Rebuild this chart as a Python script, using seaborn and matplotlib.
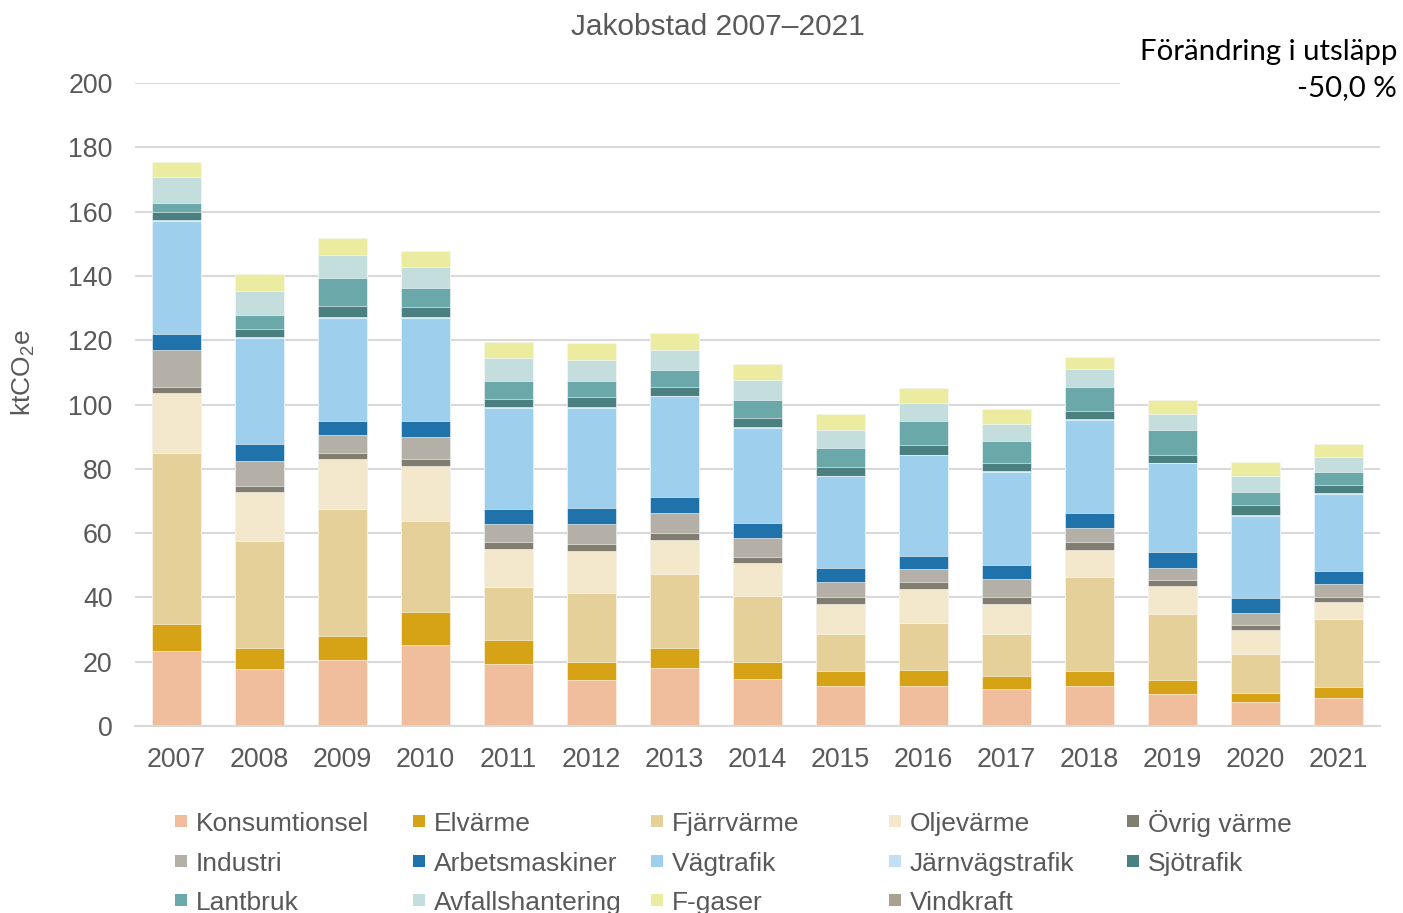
import numpy as np
import pandas as pd
import matplotlib
matplotlib.use("Agg")
import matplotlib.pyplot as plt
import matplotlib.patches as mpatches
import seaborn as sns

years = [str(y) for y in range(2007, 2022)]

categories = ["Konsumtionsel", "Elvärme", "Fjärrvärme", "Oljevärme", "Övrig värme",
              "Industri", "Arbetsmaskiner", "Vägtrafik", "Järnvägstrafik", "Sjötrafik",
              "Lantbruk", "Avfallshantering", "F-gaser", "Vindkraft"]

colors = ["#F0BE9C", "#D6A317", "#E6D09A", "#F3E8CC", "#817D70",
          "#B5B0A7", "#1F73AA", "#9ECFED", "#C0E0F4", "#4A8080",
          "#6AA8A9", "#C4DEDE", "#EBEC9F", "#A8A090"]

konsumtionsel = [23.2, 17.7, 20.4, 25.2, 19.4, 14.2, 18.2, 14.6, 12.6, 12.5, 11.4, 12.5, 9.9, 7.4, 8.7]
elvarme = [8.6, 6.5, 7.7, 10.2, 7.5, 5.6, 6.2, 5.2, 4.5, 5.0, 4.1, 4.6, 4.3, 3.0, 3.3]
fjarrvarme = [53.1, 33.5, 39.3, 28.3, 16.3, 21.5, 22.8, 20.6, 11.5, 14.6, 13.1, 29.1, 20.5, 12.0, 21.2]
oljevarme = [18.7, 15.2, 15.6, 17.1, 12.0, 13.1, 10.8, 10.3, 9.4, 10.4, 9.3, 8.7, 8.8, 7.4, 5.5]
ovrig_varme = [1.8, 1.9, 1.9, 2.4, 2.1, 2.2, 1.9, 2.0, 2.0, 2.2, 2.3, 2.3, 2.0, 1.7, 1.4]
industri = [11.7, 7.5, 5.5, 6.6, 5.5, 6.2, 6.4, 5.8, 4.8, 4.0, 5.6, 4.5, 3.8, 3.8, 4.0]
arbetsmaskiner = [4.9, 5.3, 4.6, 5.0, 4.6, 4.9, 4.8, 4.7, 4.3, 4.3, 4.3, 4.7, 4.7, 4.6, 4.1]
vagtrafik = [35.0, 33.2, 32.0, 32.2, 31.5, 31.3, 31.5, 29.5, 28.6, 31.2, 29.0, 28.9, 27.7, 25.5, 24.0]
jarnvagstrafik = [0.3, 0.3, 0.3, 0.3, 0.2, 0.2, 0.2, 0.2, 0.2, 0.2, 0.2, 0.2, 0.2, 0.2, 0.2]
sjotrafik = [2.5, 2.5, 3.2, 2.9, 2.5, 3.0, 2.6, 3.0, 2.7, 3.0, 2.6, 2.6, 2.5, 3.0, 2.6]
lantbruk = [3.0, 4.3, 8.8, 5.9, 5.7, 5.2, 5.2, 5.6, 5.8, 7.5, 6.8, 7.2, 7.6, 4.1, 3.9]
avfallshantering = [7.9, 7.3, 7.2, 6.8, 7.2, 6.5, 6.2, 6.0, 5.8, 5.5, 5.2, 5.6, 5.2, 5.2, 4.9]
f_gaser = [4.8, 5.3, 5.2, 4.9, 4.8, 5.2, 5.5, 5.1, 4.9, 4.6, 4.7, 3.9, 4.1, 4.2, 4.0]
vindkraft = [0.0] * 15

series = [konsumtionsel, elvarme, fjarrvarme, oljevarme, ovrig_varme, industri,
          arbetsmaskiner, vagtrafik, jarnvagstrafik, sjotrafik, lantbruk,
          avfallshantering, f_gaser, vindkraft]

df = pd.DataFrame(dict(zip(categories, series)), index=years)
cum = df.cumsum(axis=1)

sns.set_style("white")
plt.rcParams["font.family"] = ["Liberation Sans", "DejaVu Sans"]
plt.rcParams["mathtext.default"] = "regular"

grey = "#595959"
W, H = 1403, 913
fig = plt.figure(figsize=(14.03, 9.13), dpi=100)
ax = fig.add_axes([0.0962, 0.2048, 0.8874, 0.7043])

# stacked bars: draw cumulative totals from the top layer down
for cat, col in zip(categories[::-1], colors[::-1]):
    sns.barplot(x=years, y=cum[cat].values, color=col, width=0.6,
                saturation=1, ax=ax, edgecolor="white", linewidth=0.4)

ax.set_ylim(0, 200)
ax.set_xlim(-0.5, 14.5)
ax.set_yticks(range(0, 201, 20))
ax.set_axisbelow(True)
ax.yaxis.grid(True, color="#D9D9D9", linewidth=1.5)
for s in ["top", "right", "left"]:
    ax.spines[s].set_visible(False)
ax.spines["bottom"].set_color("#D9D9D9")
ax.spines["bottom"].set_linewidth(1.5)
ax.tick_params(axis="both", length=0, labelsize=19.3, colors=grey)
ax.tick_params(axis="x", pad=15)
ax.tick_params(axis="y", pad=16)
ax.set_ylabel("ktCO$_2$e", fontsize=19, color=grey)
ax.yaxis.set_label_coords(-0.079, 0.55)

fig.text(718 / W, 1 - 27 / H, "Jakobstad 2007–2021", ha="center", va="center",
         fontsize=21.5, color=grey)

fig.text(1397 / W, 1 - 70 / H, "Förändring i utsläpp\n-50,0 %", ha="right", va="center",
         fontsize=21.2, color="black", family=["Lato", "DejaVu Sans"],
         linespacing=1.45,
         bbox=dict(facecolor="white", edgecolor="none", pad=14))

# legend: five evenly spaced columns, filled row by row
col_x = [175, 413, 651, 889, 1127]
row_y = [821, 861, 900]
for i, (lab, col) in enumerate(zip(categories, colors)):
    x = col_x[i % 5]
    y = row_y[i // 5]
    fig.patches.append(mpatches.Rectangle((x / W, 1 - (y + 6) / H), 12 / W, 12 / H,
                                          transform=fig.transFigure, facecolor=col,
                                          edgecolor="none"))
    fig.text((x + 21) / W, 1 - y / H, lab, ha="left", va="center_baseline",
             fontsize=19, color=grey)

fig.savefig("out.png", dpi=100)
